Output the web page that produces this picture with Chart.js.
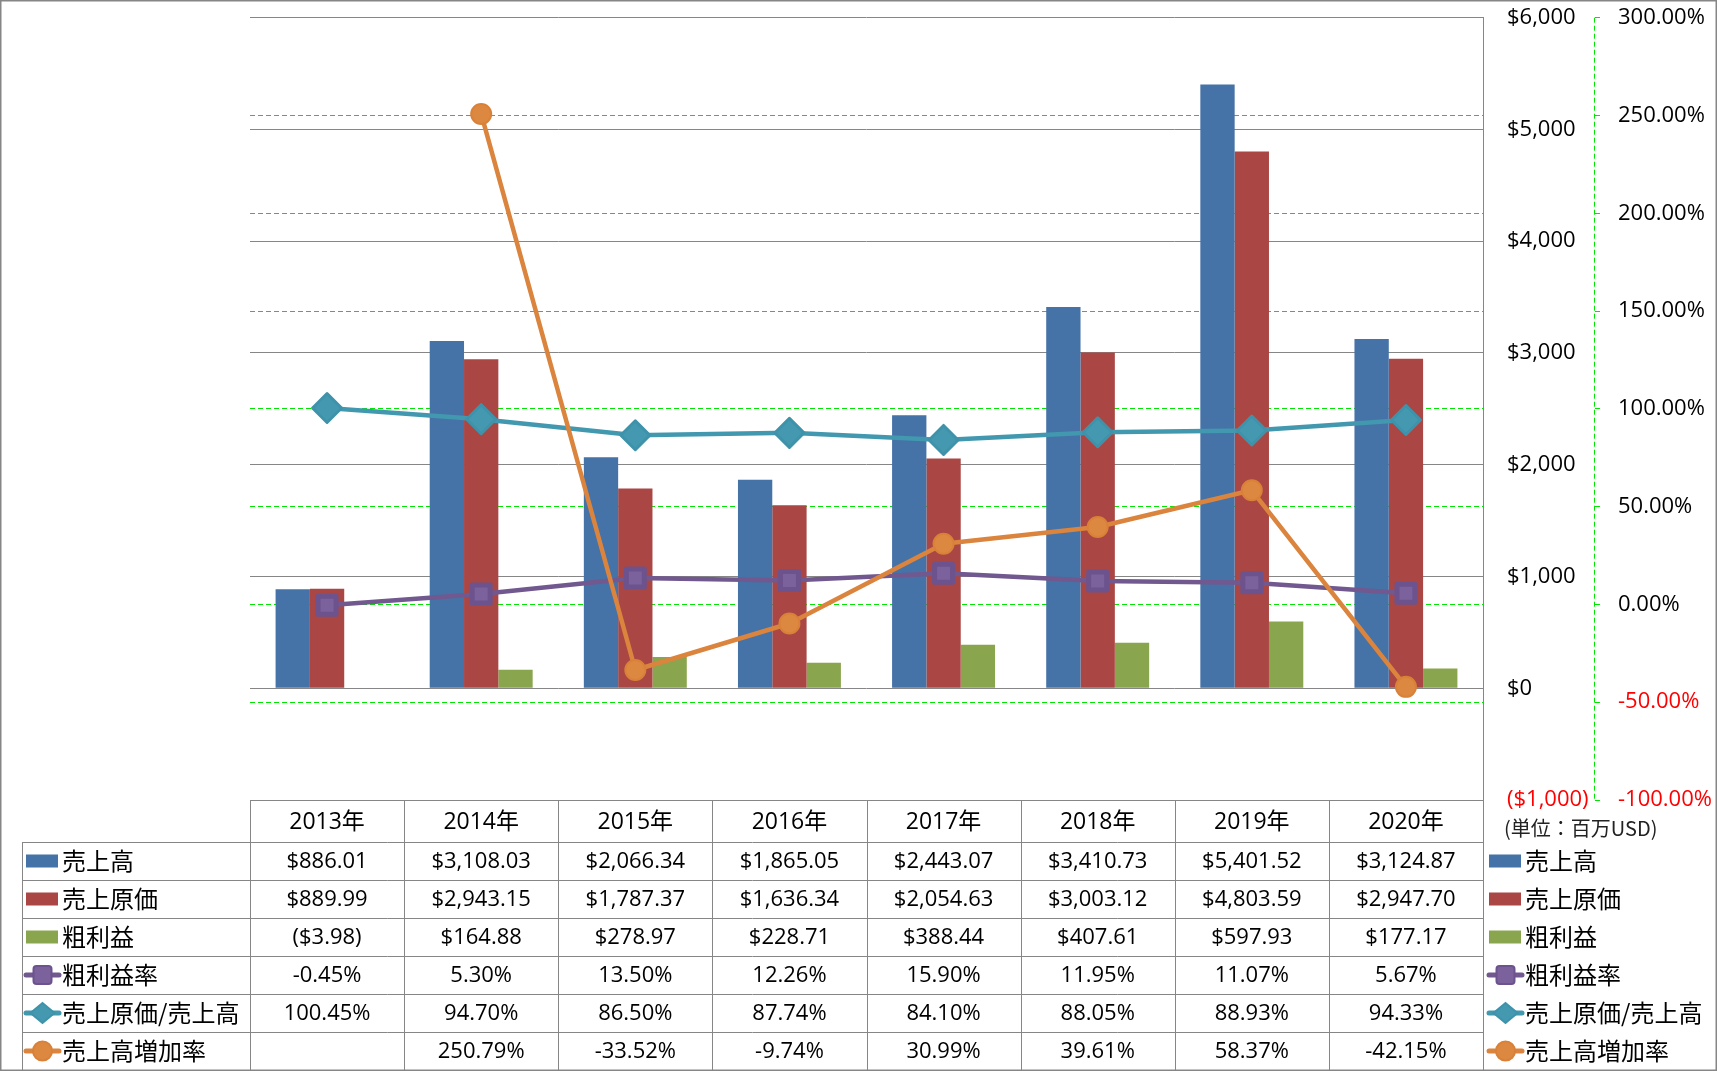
<!DOCTYPE html>
<html>
<head>
<meta charset="utf-8">
<script src="https://cdn.jsdelivr.net/npm/chart.js@4.4.1/dist/chart.umd.min.js"></script>
<style>
  body { margin: 0; background: #fff; }
</style>
</head>
<body>
<canvas id="myChart" width="1717" height="1071"></canvas>
<script>
// データ (単位: 百万USD / %)
var years = ['2013年', '2014年', '2015年', '2016年', '2017年', '2018年', '2019年', '2020年'];
var uriage = [886.01, 3108.03, 2066.34, 1865.05, 2443.07, 3410.73, 5401.52, 3124.87];
var genka = [889.99, 2943.15, 1787.37, 1636.34, 2054.63, 3003.12, 4803.59, 2947.70];
var arari = [-3.98, 164.88, 278.97, 228.71, 388.44, 407.61, 597.93, 177.17];
var arariRitsu = [-0.45, 5.30, 13.50, 12.26, 15.90, 11.95, 11.07, 5.67];
var genkaRitsu = [100.45, 94.70, 86.50, 87.74, 84.10, 88.05, 88.93, 94.33];
var zoukaRitsu = [null, 250.79, -33.52, -9.74, 30.99, 39.61, 58.37, -42.15];

// 軸の目盛り
var usdMin = -1000, usdMax = 6000, usdStep = 1000;
var pctMin = -100, pctMax = 300, pctStep = 50;
var unitNote = '(単位：百万USD)';

var GRAY = '#868686';
var GREEN = '#00e600';
var NUM_FONT = '22px "Open Sans", "Noto Sans CJK JP"';
var HEAD_FONT = '23px "Open Sans", "Noto Sans CJK JP"';
var LABEL_FONT = '24px "Noto Sans CJK JP"';

function fmtMoney(v, dec) {
    var s = '$' + Math.abs(v).toLocaleString('en-US', { minimumFractionDigits: dec, maximumFractionDigits: dec });
    return v < 0 ? '(' + s + ')' : s;
}
function fmtPct(v) {
    return v.toFixed(2) + '%';
}

function drawMarker(ctx, ds, cx, cy) {
    ctx.fillStyle = ds.pointBackgroundColor;
    ctx.strokeStyle = ds.pointBorderColor;
    ctx.lineWidth = 2;
    ctx.beginPath();
    if (ds.pointStyle === 'rect') {
        ctx.roundRect(cx - 9, cy - 9, 18, 18, 3);
    } else if (ds.pointStyle === 'rectRot') {
        ctx.moveTo(cx - 12, cy);
        ctx.lineTo(cx, cy - 10);
        ctx.lineTo(cx + 12, cy);
        ctx.lineTo(cx, cy + 10);
        ctx.closePath();
    } else {
        ctx.arc(cx, cy, 9.5, 0, Math.PI * 2);
    }
    ctx.fill();
    ctx.stroke();
}

function drawKey(ctx, ds, x0, x1, cy) {
    if (ds.type === 'bar') {
        ctx.fillStyle = ds.backgroundColor;
        ctx.fillRect(x0 + 2, cy - 6.5, x1 - x0 - 5, 13);
    } else {
        ctx.strokeStyle = ds.borderColor;
        ctx.lineWidth = 5;
        ctx.lineCap = 'round';
        ctx.beginPath();
        ctx.moveTo(x0 + 2, cy);
        ctx.lineTo(x1 - 2, cy);
        ctx.stroke();
        ctx.lineCap = 'butt';
        drawMarker(ctx, ds, (x0 + x1) / 2, cy);
    }
}

// 軸ラベル分の余白を取らせない
function fixWidth(w) {
    return function (s) {
        s.width = w;
        s.paddingTop = 0;
        s.paddingBottom = 0;
    };
}

var tablePlugin = {
    id: 'dataTable',
    beforeDatasetsDraw: function (chart) {
        chart.ctx.lineJoin = 'round';
    },
    afterDraw: function (chart) {
        var ctx = chart.ctx;
        var area = chart.chartArea;
        var xs = chart.scales.x;
        var y1 = chart.scales.y1;
        var dsList = chart.data.datasets;
        var top = Math.round(area.bottom);
        var headH = 42, rowH = 38, keyLeft = 22;
        var colW = (area.right - area.left) / years.length;
        var bottom = top + headH + rowH * dsList.length;

        ctx.save();
        ctx.lineJoin = 'miter';
        ctx.lineWidth = 1;

        // 右の%軸 (点線)
        ctx.strokeStyle = GREEN;
        ctx.setLineDash([5, 3]);
        var ax = Math.round(y1.left) + 0.5;
        ctx.beginPath();
        ctx.moveTo(ax, area.top);
        ctx.lineTo(ax, area.bottom);
        ctx.stroke();
        ctx.setLineDash([]);

        // データテーブルの罫線
        ctx.strokeStyle = GRAY;
        ctx.beginPath();
        ctx.moveTo(area.left, top + 0.5);
        ctx.lineTo(area.right, top + 0.5);
        for (var r = 0; r <= dsList.length; r++) {
            var yy = top + headH + r * rowH + 0.5;
            ctx.moveTo(keyLeft, yy);
            ctx.lineTo(area.right, yy);
        }
        for (var c = 0; c <= years.length; c++) {
            var xx = Math.round(area.left + c * colW) + 0.5;
            ctx.moveTo(xx, top);
            ctx.lineTo(xx, bottom);
        }
        ctx.moveTo(keyLeft + 0.5, top + headH);
        ctx.lineTo(keyLeft + 0.5, bottom);
        ctx.stroke();

        // 見出し
        ctx.fillStyle = '#000';
        ctx.textBaseline = 'middle';
        ctx.textAlign = 'center';
        ctx.font = HEAD_FONT;
        years.forEach(function (yr, i) {
            ctx.fillText(yr, xs.getPixelForValue(i), top + headH / 2 + 1);
        });

        // 値
        ctx.font = NUM_FONT;
        dsList.forEach(function (ds, r) {
            var cy = top + headH + r * rowH + rowH / 2 + 1;
            ds.data.forEach(function (v, i) {
                if (v === null) return;
                var txt = ds.type === 'bar' ? fmtMoney(v, 2) : fmtPct(v);
                ctx.fillStyle = '#000';
                ctx.fillText(txt, xs.getPixelForValue(i), cy);
            });
        });

        // 凡例 (左のテーブルと右側)
        var rx = area.right + 4;
        dsList.forEach(function (ds, r) {
            var cy = top + headH + r * rowH + rowH / 2;
            drawKey(ctx, ds, 24, 61, cy);
            drawKey(ctx, ds, rx, rx + 37, cy);
            ctx.fillStyle = '#000';
            ctx.textAlign = 'left';
            ctx.font = LABEL_FONT;
            ctx.fillText(ds.label, 62, cy);
            ctx.fillText(ds.label, rx + 38, cy);
        });

        ctx.font = '20px "Noto Sans CJK JP"';
        ctx.fillStyle = '#222';
        ctx.fillText(unitNote, area.right + 21, top + 28);

        // 外枠
        ctx.strokeStyle = GRAY;
        ctx.strokeRect(0.5, 0.5, chart.width - 1, chart.height - 1);
        ctx.restore();
    }
};

var ctx = document.getElementById('myChart');
new Chart(ctx, {
    type: 'bar',
    data: {
        labels: years,
        datasets: [
            { type: 'bar', label: '売上高', data: uriage, backgroundColor: '#4572A7', yAxisID: 'y', order: 10, categoryPercentage: 0.668, barPercentage: 1 },
            { type: 'bar', label: '売上原価', data: genka, backgroundColor: '#AA4643', yAxisID: 'y', order: 10, categoryPercentage: 0.668, barPercentage: 1 },
            { type: 'bar', label: '粗利益', data: arari, backgroundColor: '#89A54E', yAxisID: 'y', order: 10, categoryPercentage: 0.668, barPercentage: 1 },
            {
                type: 'line', label: '粗利益率', data: arariRitsu, yAxisID: 'y1', order: 3,
                borderColor: '#71588F', borderWidth: 4.5, borderJoinStyle: 'round',
                pointStyle: 'rect', pointRadius: 12.7, pointBorderWidth: 5,
                pointBackgroundColor: '#7B629C', pointBorderColor: '#6C538D'
            },
            {
                type: 'line', label: '売上原価/売上高', data: genkaRitsu, yAxisID: 'y1', order: 2,
                borderColor: '#4198AF', borderWidth: 4.5, borderJoinStyle: 'round',
                pointStyle: 'rectRot', pointRadius: 14.5, pointBorderWidth: 3,
                pointBackgroundColor: '#4499B1', pointBorderColor: '#3E93AA'
            },
            {
                type: 'line', label: '売上高増加率', data: zoukaRitsu, yAxisID: 'y1', order: 1,
                borderColor: '#DB843D', borderWidth: 4.5, borderJoinStyle: 'round',
                pointStyle: 'circle', pointRadius: 10, pointBorderWidth: 2,
                pointBackgroundColor: '#DC8841', pointBorderColor: '#D98138'
            }
        ]
    },
    options: {
        responsive: false,
        animation: false,
        layout: { padding: { left: 250, top: 15, right: 0, bottom: 271 } },
        plugins: { legend: { display: false }, tooltip: { enabled: false } },
        scales: {
            x: { display: false, offset: true, grid: { display: false } },
            y: {
                position: 'right', weight: 1,
                min: usdMin, max: usdMax,
                ticks: {
                    stepSize: usdStep, padding: 24,
                    font: { family: '"Open Sans", "Noto Sans CJK JP"', size: 22 },
                    color: function (c) { return c.tick && c.tick.value < 0 ? '#ff0000' : '#000000'; },
                    callback: function (v) { return fmtMoney(v, 0); }
                },
                grid: { color: GRAY, drawTicks: false, lineWidth: 1 },
                border: { display: true, color: GRAY },
                afterFit: fixWidth(111)
            },
            y1: {
                position: 'right', weight: 2,
                min: pctMin, max: pctMax,
                ticks: {
                    stepSize: pctStep, padding: 15,
                    font: { family: '"Open Sans", "Noto Sans CJK JP"', size: 22 },
                    color: function (c) { return c.tick && c.tick.value < 0 ? '#ff0000' : '#000000'; },
                    callback: function (v) { return fmtPct(v); }
                },
                grid: {
                    color: function (c) {
                        return c.tick && (c.tick.value === pctMax || c.tick.value === pctMin) ? 'rgba(0,0,0,0)' : GREEN;
                    },
                    tickColor: GREEN, tickLength: 9, tickBorderDash: [5, 3], lineWidth: 1
                },
                border: { display: true, color: 'rgba(0,0,0,0)', dash: [5, 3] },
                afterFit: fixWidth(123)
            }
        }
    },
    plugins: [tablePlugin]
});
</script>
</body>
</html>
